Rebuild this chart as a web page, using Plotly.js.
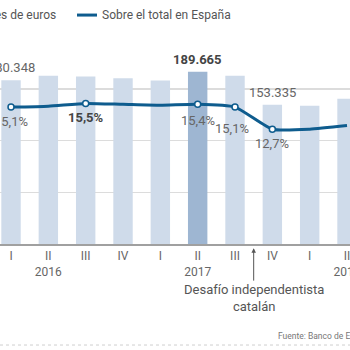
<!DOCTYPE html>
<html><head><meta charset="utf-8">
<script src="https://cdn.plot.ly/plotly-3.0.1.min.js"></script>
<style>html,body{margin:0;padding:0;background:#fff}#chart{width:350px;height:350px}</style>
</head><body><div id="chart"></div>
<script>
// ---- data ----
const quarters = ["I","II","III","IV","I","II","III","IV","I","II"];
const years = ["2016","2016","2016","2016","2017","2017","2017","2017","2018","2018"];
const deposits = [180348, 185400, 184600, 182600, 180200, 189665, 185400, 153335, 152200, 159900]; // millones de euros
const sharePct = [15.1, 15.2, 15.5, 15.4, 15.3, 15.4, 15.1, 12.7, 12.7, 13.1];                  // % sobre el total en España
const depositLabelIdx = [0, 5, 7];
const shareLabelIdx = [0, 2, 5, 6, 7];
const yearLabelQuarter = "II";
const eventText = "Desafío independentista<br>catalán";
const eventAfterIdx = 6;           // event between 2017 III and 2017 IV
const barsName = "Millones de euros";
const lineName = "Sobre el total en España";
const sourceText = "Fuente: Banco de España";

// ---- styling ----
const FONT = "Roboto, 'Open Sans', sans-serif";
const LIGHT = "#cfdbea", DARK = "#9eb6d2", LINE = "#0e5c8e", TXT = "#666", TXT_B = "#444";
const shareLabelNudge = {5: [0, -2], 6: [-3, -7]};   // label placement tweaks (px)

const cats = quarters.map((q, i) => years[i] + " " + q);
const tickText = quarters.map((q, i) => q === yearLabelQuarter ? q + "<br>" + years[i] : q);
const maxDep = Math.max(...deposits), maxPct = Math.max(...sharePct);
const fmtNum = n => String(n).replace(/\B(?=(\d{3})+(?!\d))/g, ".");
const fmtPct = v => v.toFixed(1).replace(".", ",") + "%";

const bars = {
  type: "bar", x: cats, y: deposits, name: barsName,
  marker: {color: deposits.map(v => v === maxDep ? DARK : LIGHT), line: {width: 0}},
  hoverinfo: "skip"
};
const line = {
  type: "scatter", mode: "lines+markers", x: cats, y: sharePct, yaxis: "y2", name: lineName,
  line: {color: LINE, width: 3, shape: "spline", smoothing: 0.5},
  marker: {size: 6, color: "#fff", line: {color: LINE, width: 1.5},
           opacity: sharePct.map((v, i) => shareLabelIdx.includes(i) ? 1 : 0)},
  hoverinfo: "skip"
};

const annotations = [];
depositLabelIdx.forEach(i => annotations.push({
  x: i, y: deposits[i], xref: "x", yref: "y", text: fmtNum(deposits[i]),
  showarrow: false, yanchor: "bottom", yshift: 3,
  font: {family: FONT, size: 13, color: deposits[i] === maxDep ? TXT_B : TXT, weight: deposits[i] === maxDep ? 700 : 400}
}));
shareLabelIdx.forEach(i => {
  const n = shareLabelNudge[i] || [0, 0];
  annotations.push({
    x: i, y: sharePct[i], xref: "x", yref: "y2", text: fmtPct(sharePct[i]),
    showarrow: false, yanchor: "top", yshift: -5 + n[1], xshift: n[0],
    font: {family: FONT, size: 13, color: sharePct[i] === maxPct ? TXT_B : TXT, weight: sharePct[i] === maxPct ? 700 : 400}
  });
});
annotations.push({
  x: eventAfterIdx + 0.5, y: -0.02, xref: "x", yref: "paper", text: eventText,
  showarrow: true, ax: 0, ay: 50, arrowhead: 2, arrowsize: 0.9, arrowwidth: 1, arrowcolor: "#555",
  font: {family: FONT, size: 13, color: "#555"}
});
annotations.push({
  x: 58/350, y: 1.106, xref: "paper", yref: "paper", text: barsName, showarrow: false,
  xanchor: "right", yanchor: "middle", font: {family: FONT, size: 12, color: "#555"}
});
annotations.push({
  x: 100/350, y: 1.106, xref: "paper", yref: "paper", text: lineName, showarrow: false,
  xanchor: "left", yanchor: "middle", font: {family: FONT, size: 12, color: "#555"}
});
annotations.push({
  x: 276/350, y: -0.444, xref: "paper", yref: "paper", text: sourceText, showarrow: false,
  xanchor: "left", yanchor: "middle", font: {family: FONT, size: 8.5, color: "#777"}
});

const layout = {
  width: 350, height: 350,
  margin: {l: 0, r: 0, t: 37, b: 106, autoexpand: false},
  paper_bgcolor: "#fff", plot_bgcolor: "#fff",
  showlegend: false, bargap: 0.48,
  font: {family: FONT, color: TXT},
  xaxis: {type: "category", range: [-0.295, 9.08], tickvals: cats, ticktext: tickText,
          ticks: "", showgrid: false, showline: true, linecolor: "#a0a0a0", linewidth: 1.5,
          tickfont: {family: FONT, size: 12, color: TXT}, fixedrange: true},
  yaxis: {range: [0, 228000], dtick: 57000, showticklabels: false, showgrid: true,
          gridcolor: "#dcdcdc", gridwidth: 1.5, zeroline: false, fixedrange: true},
  yaxis2: {overlaying: "y", range: [0.25, 22.7], visible: false, fixedrange: true},
  shapes: [
    {type: "line", xref: "paper", yref: "paper", x0: 77/350, x1: 97/350, y0: 1.106, y1: 1.106,
     line: {color: LINE, width: 3}},
    {type: "line", xref: "paper", yref: "paper", x0: 0, x1: 1, y0: -0.488, y1: -0.488,
     line: {color: "#cfcfcf", width: 1, dash: "dot"}}
  ],
  annotations: annotations
};
Plotly.newPlot("chart", [bars, line], layout, {displayModeBar: false, staticPlot: true});
</script></body></html>
